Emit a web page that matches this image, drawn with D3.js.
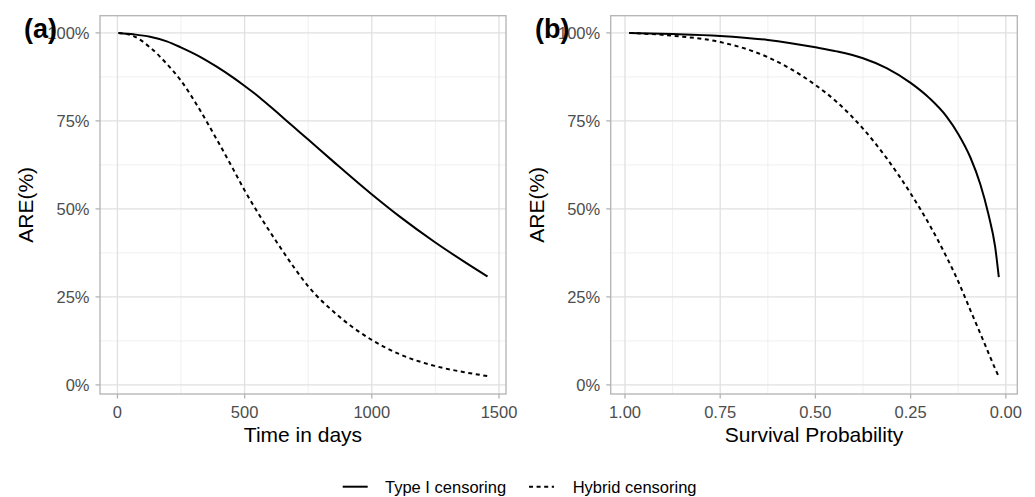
<!DOCTYPE html>
<html>
<meta charset="utf-8">
<head>
<title>ARE</title>
<script src="https://cdn.jsdelivr.net/npm/d3@7"></script>
<style>
  body { margin: 0; background: #fff; }
  svg text { font-family: "Liberation Sans", Arial, Helvetica, sans-serif; }
</style>
</head>
<body>
<div id="chart"></div>
<script>
// panel (a): ARE against time in days
var timeDays = [4, 63, 128, 194, 249, 325, 390, 455, 499, 560, 626, 691, 750, 848, 997, 1110, 1247, 1372, 1455];
var typeOneA = [100, 99.6, 98.9, 97.6, 95.9, 93.2, 90.4, 87.3, 85.0, 81.6, 77.5, 73.4, 69.7, 63.5, 54.3, 47.8, 40.6, 34.6, 30.8];
var hybridA  = [100, 99.1, 95.9, 91.2, 86.5, 78.0, 69.8, 61.3, 55.4, 48.0, 40.6, 33.7, 28.0, 20.9, 12.9, 8.7, 5.4, 3.5, 2.5];

// panel (b): ARE against survival probability
var survProb = [0.989, 0.875, 0.75, 0.625, 0.5, 0.444, 0.375, 0.313, 0.25, 0.2, 0.156, 0.125, 0.093, 0.067, 0.046, 0.028, 0.0184];
var typeOneB = [100, 99.7, 99.15, 98.0, 95.9, 94.75, 92.8, 90.0, 85.8, 81.4, 76.3, 71.3, 64.6, 57.0, 48.6, 39.2, 30.6];
var hybridB  = [100, 99.2, 97.4, 93.1, 85.2, 80.4, 72.8, 64.4, 54.4, 45.4, 36.4, 29.4, 21.2, 14.6, 9.2, 4.6, 2.3];

var xTicksA = [0, 500, 1000, 1500];
var xMinorA = [250, 750, 1250];
var xTicksB = [1.00, 0.75, 0.50, 0.25, 0.00];
var xMinorB = [0.875, 0.625, 0.375, 0.125];
var yTicks  = [0, 25, 50, 75, 100];
var yMinor  = [12.5, 37.5, 62.5, 87.5];

var seriesNames = ["Type I censoring", "Hybrid censoring"];
var dashes = [null, "4,3.6"];

var W = 1035, H = 497;
var svg = d3.select("#chart").append("svg").attr("width", W).attr("height", H);

// ggplot-like 5% expansion
function expand(ext) {
	var d = (ext[1] - ext[0]) * 0.05;
	return [ext[0] - d, ext[1] + d];
}

var panelTop = 15.7, panelBottom = 394;
var allY = typeOneA.concat(hybridA, typeOneB, hybridB);
var yDom = expand(d3.extent(allY));

function drawPanel(o) {
	var xd = expand(d3.extent(o.xs));
	if (o.reverse) xd.reverse();
	var x = d3.scaleLinear().domain(xd).range([o.left, o.right]);
	var y = d3.scaleLinear().domain(yDom).range([panelBottom, panelTop]);
	var g = svg.append("g");

	// minor grid
	g.selectAll(".xmin").data(o.minor).enter().append("line")
		.attr("x1", function(d) { return x(d); }).attr("x2", function(d) { return x(d); })
		.attr("y1", panelTop).attr("y2", panelBottom)
		.attr("stroke", "#ececec").attr("stroke-width", 0.8);
	g.selectAll(".ymin").data(yMinor).enter().append("line")
		.attr("y1", function(d) { return y(d); }).attr("y2", function(d) { return y(d); })
		.attr("x1", o.left).attr("x2", o.right)
		.attr("stroke", "#ececec").attr("stroke-width", 0.8);
	// major grid
	g.selectAll(".xmaj").data(o.ticks).enter().append("line")
		.attr("x1", function(d) { return x(d); }).attr("x2", function(d) { return x(d); })
		.attr("y1", panelTop).attr("y2", panelBottom)
		.attr("stroke", "#e0e0e0").attr("stroke-width", 1.3);
	g.selectAll(".ymaj").data(yTicks).enter().append("line")
		.attr("y1", function(d) { return y(d); }).attr("y2", function(d) { return y(d); })
		.attr("x1", o.left).attr("x2", o.right)
		.attr("stroke", "#e0e0e0").attr("stroke-width", 1.3);

	// curves
	var line = d3.line()
		.x(function(d) { return x(d[0]); })
		.y(function(d) { return y(d[1]); })
		.curve(d3.curveMonotoneX);
	o.series.forEach(function(s, i) {
		var pts = o.xs.map(function(v, j) { return [v, s[j]]; });
		g.append("path").datum(pts)
			.attr("d", line)
			.attr("fill", "none")
			.attr("stroke", "#000")
			.attr("stroke-width", 2)
			.attr("stroke-dasharray", dashes[i]);
	});

	// border
	g.append("rect").attr("x", o.left).attr("y", panelTop)
		.attr("width", o.right - o.left).attr("height", panelBottom - panelTop)
		.attr("fill", "none").attr("stroke", "#b3b3b3").attr("stroke-width", 1.3);

	// ticks
	g.selectAll(".xt").data(o.ticks).enter().append("line")
		.attr("x1", function(d) { return x(d); }).attr("x2", function(d) { return x(d); })
		.attr("y1", panelBottom).attr("y2", panelBottom + 4.5)
		.attr("stroke", "#b3b3b3").attr("stroke-width", 1.3);
	g.selectAll(".yt").data(yTicks).enter().append("line")
		.attr("y1", function(d) { return y(d); }).attr("y2", function(d) { return y(d); })
		.attr("x1", o.left - 4.5).attr("x2", o.left)
		.attr("stroke", "#b3b3b3").attr("stroke-width", 1.3);

	g.selectAll(".xl").data(o.ticks).enter().append("text")
		.attr("x", function(d) { return x(d); }).attr("y", 417.7)
		.attr("text-anchor", "middle").attr("font-size", "16.5px").attr("fill", "#4d4d4d")
		.text(o.fmt);
	g.selectAll(".yl").data(yTicks).enter().append("text")
		.attr("x", o.left - 10.5).attr("y", function(d) { return y(d); })
		.attr("dy", "0.36em")
		.attr("text-anchor", "end").attr("font-size", "16.5px").attr("fill", "#4d4d4d")
		.text(function(d) { return d + "%"; });

	// titles
	g.append("text").attr("x", (o.left + o.right) / 2).attr("y", 441.7)
		.attr("text-anchor", "middle").attr("font-size", "21px").attr("fill", "#000")
		.text(o.xTitle);
	g.append("text")
		.attr("transform", "translate(" + (o.left - 67) + "," + ((panelTop + panelBottom) / 2) + ") rotate(-90)")
		.attr("text-anchor", "middle").attr("font-size", "21px").attr("fill", "#000")
		.text("ARE(%)");
	g.append("text").attr("x", o.tagX).attr("y", 37.5)
		.attr("font-size", "27px").attr("font-weight", "bold").attr("fill", "#000")
		.text(o.tag);
}

drawPanel({
	left: 100, right: 506, xs: timeDays, series: [typeOneA, hybridA],
	ticks: xTicksA, minor: xMinorA, fmt: function(d) { return d; },
	xTitle: "Time in days", tag: "(a)", tagX: 24
});
drawPanel({
	left: 610.7, right: 1017.3, xs: survProb, series: [typeOneB, hybridB], reverse: true,
	ticks: xTicksB, minor: xMinorB, fmt: d3.format(".2f"),
	xTitle: "Survival Probability", tag: "(b)", tagX: 535
});

// legend
var legend = svg.append("g");
var keyX = [342.7, 529], textX = [385, 572.7], ly = 486.7;
seriesNames.forEach(function(n, i) {
	legend.append("line").attr("x1", keyX[i]).attr("x2", keyX[i] + 25)
		.attr("y1", ly).attr("y2", ly)
		.attr("stroke", "#000").attr("stroke-width", 2)
		.attr("stroke-dasharray", dashes[i]);
	legend.append("text").attr("x", textX[i]).attr("y", ly).attr("dy", "0.36em")
		.attr("font-size", "16.5px").attr("fill", "#000").text(n);
});
</script>
</body>
</html>
